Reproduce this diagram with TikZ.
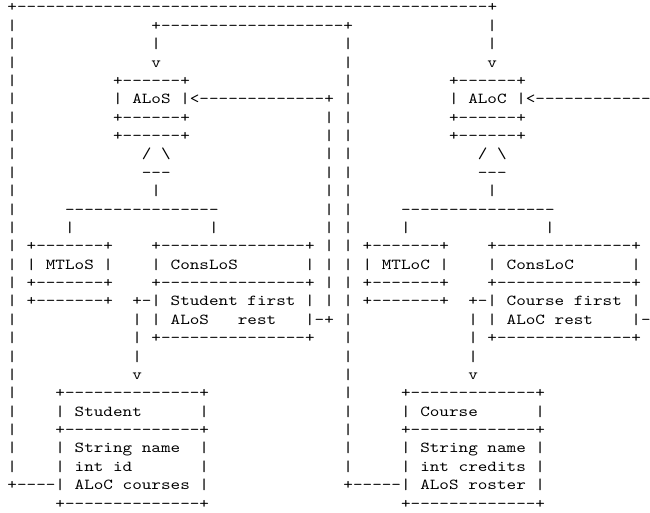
\documentclass[tikz,border=0pt]{standalone}
\usepackage{fontspec}
\setmonofont{lmmono10-regular.otf}[FakeStretch=1.2]
\ExplSyntaxOn
\cs_new:Npn \ascdash #1 { \prg_replicate:nn {#1} {-} }
\ExplSyntaxOff
\begin{document}
\begin{tikzpicture}[x=7.2pt, y=-13.78pt,
    ascii/.style={font=\fontsize{11.43}{13.78}\selectfont\ttfamily,
      anchor=base west, inner sep=0pt}]
  \useasboundingbox (-0.75, -0.653) rectangle (66.96, 27.22);

  % Outer link: courses back up to ALoC
  \node [ascii] (outtop) at (0, 0) {+\ascdash{49}+};
  \foreach \r in {1,...,25}
    \node [ascii] (outl\r) at (0, \r) {|};
  \node [ascii] (outr1) at (50, 1) {|};
  \node [ascii] (outr2) at (50, 2) {|};
  \node [ascii] (outv) at (50, 3) {v};

  % Inner link: roster back up to ALoS
  \node [ascii] (intop) at (15, 1) {+\ascdash{19}+};
  \node [ascii] (inl) at (15, 2) {|};
  \node [ascii] (inv) at (15, 3) {v};
  \foreach \r in {2,...,25}
    \node [ascii] (inr\r) at (35, \r) {|};

  % ALoS
  \node [ascii] (alostop) at (11, 4) {+\ascdash{6}+};
  \node [ascii] (alos) at (11, 5) {| ALoS |<\ascdash{13}+};
  \node [ascii] (alosmid) at (11, 6) {+\ascdash{6}+};
  \node [ascii] (alosbot) at (11, 7) {+\ascdash{6}+};
  \foreach \r in {6,...,16}
    \node [ascii] (slink\r) at (33, \r) {|};

  % ALoC
  \node [ascii] (aloctop) at (46, 4) {+\ascdash{6}+};
  \node [ascii] (aloc) at (46, 5) {| ALoC |<\ascdash{12}};
  \node [ascii] (alocmid) at (46, 6) {+\ascdash{6}+};
  \node [ascii] (alocbot) at (46, 7) {+\ascdash{6}+};

  % Union triangles
  \node [ascii] (stri) at (14, 8) {/ \textbackslash};
  \node [ascii] (strib) at (14, 9) {\ascdash{3}};
  \node [ascii] (sstem) at (15, 10) {|};
  \node [ascii] (sbar) at (6, 11) {\ascdash{16}};
  \node [ascii] (smt) at (6, 12) {|};
  \node [ascii] (scons) at (21, 12) {|};
  \node [ascii] (ctri) at (49, 8) {/ \textbackslash};
  \node [ascii] (ctrib) at (49, 9) {\ascdash{3}};
  \node [ascii] (cstem) at (50, 10) {|};
  \node [ascii] (cbar) at (41, 11) {\ascdash{16}};
  \node [ascii] (cmt) at (41, 12) {|};
  \node [ascii] (ccons) at (56, 12) {|};

  % MTLoS
  \node [ascii] (mtlostop) at (2, 13) {+\ascdash{7}+};
  \node [ascii] (mtlos) at (2, 14) {| MTLoS |};
  \node [ascii] (mtlosmid) at (2, 15) {+\ascdash{7}+};
  \node [ascii] (mtlosbot) at (2, 16) {+\ascdash{7}+};

  % ConsLoS
  \node [ascii] (conslostop) at (15, 13) {+\ascdash{15}+};
  \node [ascii] (conslos) at (15, 14) {| ConsLoS};
  \node [ascii] (conslosr) at (31, 14) {|};
  \node [ascii] (conslosmid) at (15, 15) {+\ascdash{15}+};
  \node [ascii] (first) at (13, 16) {+-| Student first |};
  \node [ascii] (flink1) at (13, 17) {|};
  \node [ascii] (rest) at (15, 17) {| ALoS};
  \node [ascii] (restname) at (24, 17) {rest};
  \node [ascii] (restr) at (31, 17) {|-+};
  \node [ascii] (flink2) at (13, 18) {|};
  \node [ascii] (conslosbot) at (15, 18) {+\ascdash{15}+};
  \node [ascii] (flink3) at (13, 19) {|};
  \node [ascii] (flinkv) at (13, 20) {v};

  % MTLoC
  \node [ascii] (mtloctop) at (37, 13) {+\ascdash{7}+};
  \node [ascii] (mtloc) at (37, 14) {| MTLoC |};
  \node [ascii] (mtlocmid) at (37, 15) {+\ascdash{7}+};
  \node [ascii] (mtlocbot) at (37, 16) {+\ascdash{7}+};

  % ConsLoC
  \node [ascii] (consloctop) at (50, 13) {+\ascdash{14}+};
  \node [ascii] (consloc) at (50, 14) {| ConsLoC};
  \node [ascii] (conslocr) at (65, 14) {|};
  \node [ascii] (conslocmid) at (50, 15) {+\ascdash{14}+};
  \node [ascii] (cfirst) at (48, 16) {+-| Course first |};
  \node [ascii] (clink1) at (48, 17) {|};
  \node [ascii] (crest) at (50, 17) {| ALoC rest};
  \node [ascii] (crestr) at (65, 17) {|-};
  \node [ascii] (clink2) at (48, 18) {|};
  \node [ascii] (conslocbot) at (50, 18) {+\ascdash{14}+};
  \node [ascii] (clink3) at (48, 19) {|};
  \node [ascii] (clinkv) at (48, 20) {v};

  % Student
  \node [ascii] (studtop) at (5, 21) {+\ascdash{14}+};
  \node [ascii] (stud) at (5, 22) {| Student};
  \node [ascii] (studr) at (20, 22) {|};
  \node [ascii] (studmid) at (5, 23) {+\ascdash{14}+};
  \node [ascii] (sname) at (5, 24) {| String name};
  \node [ascii] (snamer) at (20, 24) {|};
  \node [ascii] (sid) at (5, 25) {| int id};
  \node [ascii] (sidr) at (20, 25) {|};
  \node [ascii] (scourses) at (0, 26) {+\ascdash{4}| ALoC courses |};
  \node [ascii] (studbot) at (5, 27) {+\ascdash{14}+};

  % Course
  \node [ascii] (coursetop) at (41, 21) {+\ascdash{13}+};
  \node [ascii] (course) at (41, 22) {| Course};
  \node [ascii] (courser) at (55, 22) {|};
  \node [ascii] (coursemid) at (41, 23) {+\ascdash{13}+};
  \node [ascii] (cname) at (41, 24) {| String name |};
  \node [ascii] (ccredits) at (41, 25) {| int credits |};
  \node [ascii] (croster) at (35, 26) {+\ascdash{5}| ALoS roster |};
  \node [ascii] (coursebot) at (41, 27) {+\ascdash{13}+};
\end{tikzpicture}
\end{document}
